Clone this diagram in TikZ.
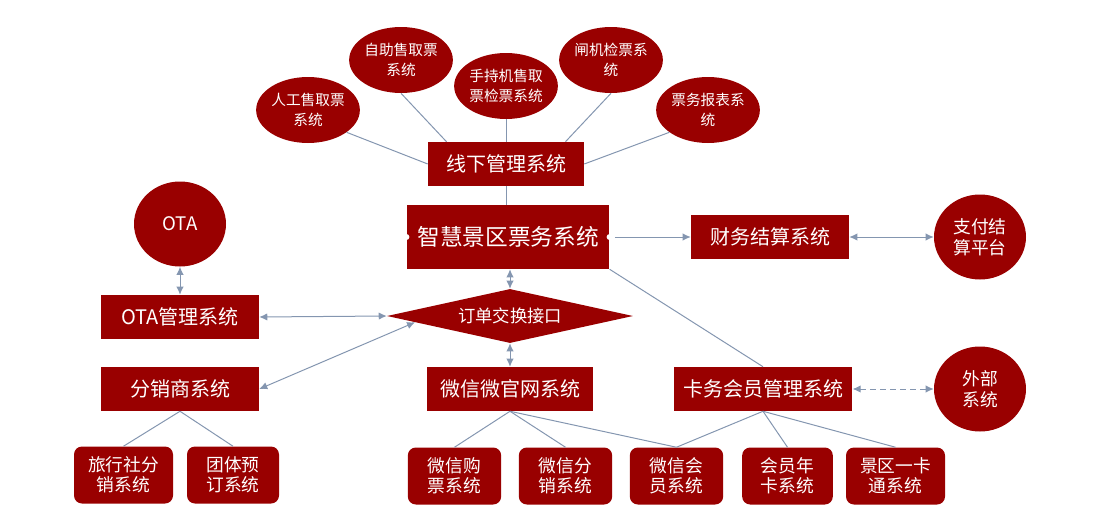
\documentclass[tikz,border=0pt]{standalone}
\usepackage{fontspec}
\setmainfont{Noto Sans CJK SC}
\definecolor{DarkRed}{RGB}{153,0,0}
\definecolor{Slate}{RGB}{132,150,176}
\usetikzlibrary{shapes.geometric, arrows.meta, calc}

\begin{document}
\begin{tikzpicture}[x=0.75pt, y=-0.75pt,
    sysbox/.style={fill=DarkRed, text=white, inner sep=0pt, minimum height=33pt, font=\fontsize{15}{18}\selectfont},
    subell/.style={ellipse, fill=DarkRed, text=white, inner sep=0pt, minimum width=75.75pt, minimum height=49.5pt, align=center, font=\fontsize{11}{15}\selectfont},
    leafbox/.style={rounded corners=6pt, fill=DarkRed, text=white, inner sep=0pt, minimum width=70pt, minimum height=42.75pt, align=center, font=\fontsize{13.3}{15}\selectfont},
    extcirc/.style={ellipse, fill=DarkRed, text=white, inner sep=0pt, minimum width=69pt, minimum height=63.75pt, align=center, font=\fontsize{13.3}{16}\selectfont},
    link/.style={Slate, line width=0.75pt},
    >={Latex[length=6pt,width=5.5pt]}]
    \useasboundingbox (0,0) rectangle (1111,521);
    % offline part
    \node[subell] (rg) at (308,110) {人工售取票\\系统};
    \node[subell] (zz) at (401,60) {自助售取票\\系统};
    \node[subell] (sc) at (506,86) {手持机售取\\票检票系统};
    \node[subell] (zj) at (611,60) {闸机检票系\\统};
    \node[subell] (bb) at (708,110) {票务报表系\\统};
    \node[sysbox, minimum width=117pt] (xx) at (506,164) {线下管理系统};
    % core
    \node[sysbox, minimum width=152pt, minimum height=48pt, font=\fontsize{17}{20}\selectfont] (pw) at (508,237) {智慧景区票务系统};
    \node[sysbox, minimum width=118.5pt] (cw) at (770,237) {财务结算系统};
    \node[extcirc] (zf) at (980,237) {支付结\\算平台};
    \node[diamond, fill=DarkRed, text=white, inner sep=0pt, shape aspect=4.5, minimum width=184.5pt, minimum height=40.5pt, font=\fontsize{13}{15}\selectfont] (dd) at (510,316) {订单交换接口};
    \node[extcirc, font=\fontsize{14}{16}\selectfont] (ota) at (180,224) {OTA};
    \node[sysbox, minimum width=118.5pt] (otam) at (180,317) {OTA管理系统};
    \node[sysbox, minimum width=118.5pt] (fx) at (180,389) {分销商系统};
    \node[sysbox, minimum width=124pt] (wx) at (510,389) {微信微官网系统};
    \node[sysbox, minimum width=134pt] (kw) at (763,389) {卡务会员管理系统};
    \node[extcirc] (wb) at (980,389) {外部\\系统};
    % leaves
    \node[leafbox, minimum width=74.25pt] (lxs) at (123.5,475) {旅行社分\\销系统};
    \node[leafbox, minimum width=69pt] (tt) at (233,475) {团体预\\订系统};
    \node[leafbox] (gp) at (454.5,476) {微信购\\票系统};
    \node[leafbox] (wfx) at (565.5,476) {微信分\\销系统};
    \node[leafbox] (hy) at (676.5,476) {微信会\\员系统};
    \node[leafbox, minimum width=68pt] (nk) at (787.5,476) {会员年\\卡系统};
    \node[leafbox, minimum width=74.25pt] (ykt) at (895.5,476) {景区一卡\\通系统};
    \fill[white] (pw.west) circle[radius=3] (pw.east) circle[radius=3];

    \draw[link] (rg.-30) -- (xx.west);
    \draw[link] (zz.south) -- ($(xx.north west)!0.12!(xx.north east)$);
    \draw[link] (sc.south) -- (xx.north);
    \draw[link] (zj.south) -- ($(xx.north west)!0.88!(xx.north east)$);
    \draw[link] (bb.-150) -- (xx.east);
    \draw[link] (xx.south) -- (xx.south |- pw.north);
    \draw[link, ->, shorten <=4pt] (pw.east) -- (cw.west);
    \draw[link, <->] (cw.east) -- (zf.west);
    \draw[link, <->] (dd.north |- pw.south) -- (dd.north);
    \draw[link, <->] (dd.south) -- (wx.north);
    \draw[link, <->] (ota.south) -- (otam.north);
    \draw[link, <->] (otam.east) -- (dd.west);
    \draw[link, <->] (fx.east) -- ($(dd.west)!0.23!(dd.south)$);
    \draw[link] (pw.south east) -- (kw.north);
    \draw[link, <->, dash pattern=on 4.5pt off 3pt] (kw.east) -- (wb.west);
    %\draw[link] (fx.south) -- (otam.south);
    \draw[link] (fx.south) -- (lxs.north);
    \draw[link] (fx.south) -- (tt.north);
    \draw[link] (wx.south) -- (gp.north);
    \draw[link] (wx.south) -- (wfx.north);
    \draw[link] (wx.south) -- (hy.north);
    \draw[link] (kw.south) -- (hy.north);
    \draw[link] (kw.south) -- (nk.north);
    \draw[link] (kw.south) -- (ykt.north);
\end{tikzpicture}
\end{document}
